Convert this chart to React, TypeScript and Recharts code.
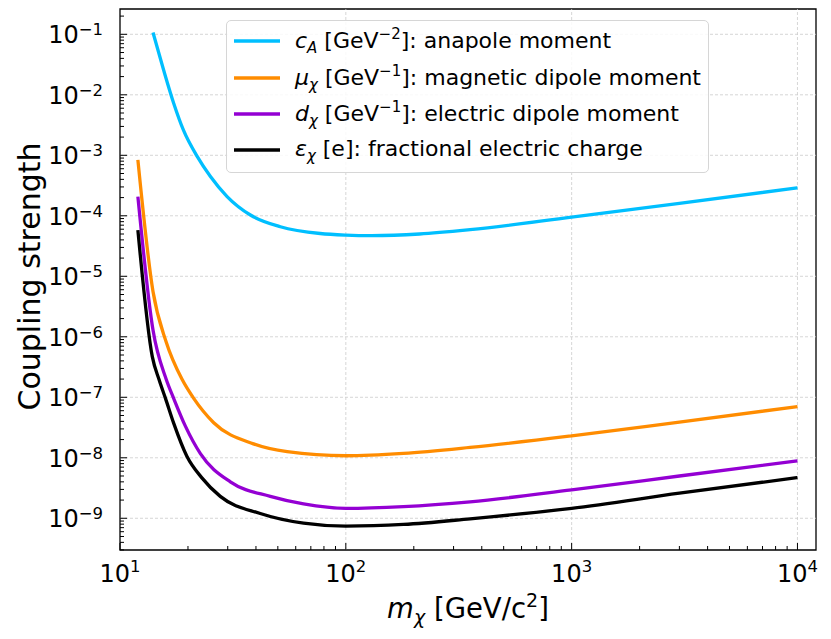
import React from "react";
import { LineChart, Line, XAxis, YAxis, Legend, ReferenceLine, ReferenceArea } from "recharts";

// masses in GeV/c^2, limits
const ANAPOLE_MASS = [14, 15.6, 17.3, 19.1, 22, 25.1, 29.8, 37.8, 51.3, 77, 100, 130, 212, 355, 1000, 3000, 10000];
const ANAPOLE = [0.107, 0.0257, 7.2e-3, 2.6e-3, 9.5e-4, 4.5e-4, 2.08e-4, 1.03e-4, 6.6e-5, 5.1e-5, 4.8e-5, 4.7e-5, 5.0e-5, 5.9e-5, 9.5e-5, 1.6e-4, 2.9e-4];

const MAGNETIC_MASS = [12, 14, 16, 18.8, 21.2, 26, 39, 55, 100, 180, 355, 1000, 3000, 10000];
const MAGNETIC = [8.4e-4, 5.6e-6, 8.3e-7, 2.0e-7, 9.6e-8, 3.8e-8, 1.7e-8, 1.26e-8, 1.08e-8, 1.18e-8, 1.48e-8, 2.3e-8, 3.9e-8, 7.0e-8];

const ELECTRIC_MASS = [12, 14, 16, 17.3, 19.5, 22.7, 30.8, 46.3, 65, 100, 180, 355, 1000, 3000, 10000];
const ELECTRIC = [2.07e-4, 1.29e-6, 2.0e-7, 9.5e-8, 3.3e-8, 1.17e-8, 4.0e-9, 2.3e-9, 1.73e-9, 1.46e-9, 1.56e-9, 1.87e-9, 2.95e-9, 5.0e-9, 8.9e-9];

const CHARGE_MASS = [12, 13.9, 14.9, 15.9, 17.3, 19.8, 23, 27.8, 41.8, 65, 100, 180, 355, 1000, 3000, 10000];
const CHARGE = [5.8e-5, 4.7e-7, 1.95e-7, 9.6e-8, 3.7e-8, 1.05e-8, 4.7e-9, 2.3e-9, 1.2e-9, 8.3e-10, 7.4e-10, 7.9e-10, 9.8e-10, 1.46e-9, 2.6e-9, 4.7e-9];

const X_DOMAIN = [10, 12080];
const Y_DOMAIN = [2.99e-10, 0.262];
const X_DECADES = [1, 2, 3, 4];
const Y_DECADES = [-10, -9, -8, -7, -6, -5, -4, -3, -2, -1];

const FONT = "'DejaVu Sans', sans-serif";

const toRows = (mass: number[], vals: number[]) => mass.map((m, i) => ({ m, v: vals[i] }));

const SERIES = [
  { key: "anapole", color: "#00BFFF", data: toRows(ANAPOLE_MASS, ANAPOLE), sym: "c", sub: "A", unit: "−2", text: "anapole moment" },
  { key: "magnetic", color: "#FF8C00", data: toRows(MAGNETIC_MASS, MAGNETIC), sym: "μ", sub: "χ", unit: "−1", text: "magnetic dipole moment" },
  { key: "electric", color: "#9400D3", data: toRows(ELECTRIC_MASS, ELECTRIC), sym: "d", sub: "χ", unit: "−1", text: "electric dipole moment" },
  { key: "charge", color: "#000000", data: toRows(CHARGE_MASS, CHARGE), sym: "ε", sub: "χ", unit: null, text: "fractional electric charge" },
];

function logTicks(decades: number[], lo: number, hi: number): number[] {
  const out: number[] = [];
  decades.forEach((e) => {
    for (let k = 1; k <= 9; k++) {
      const v = k * Math.pow(10, e);
      if (v >= lo && v <= hi) out.push(v);
    }
  });
  return out;
}

const X_TICKS = logTicks(X_DECADES, X_DOMAIN[0], X_DOMAIN[1]);
const Y_TICKS = logTicks(Y_DECADES, Y_DOMAIN[0], Y_DOMAIN[1]);

const isMajor = (v: number) => Math.abs(Math.log10(v) - Math.round(Math.log10(v))) < 1e-6;
const expOf = (v: number) => {
  const e = Math.round(Math.log10(v));
  return e < 0 ? `−${-e}` : `${e}`;
};

// eslint-disable-next-line @typescript-eslint/no-explicit-any
function XTick(props: any) {
  const { x, y, payload } = props;
  const major = isMajor(payload.value);
  return (
    <g>
      <line x1={x} x2={x} y1={y} y2={y - (major ? 7 : 4)} stroke="#000" strokeWidth={1} />
      {major && (
        <text x={x} y={y + 32} textAnchor="middle" fontFamily={FONT} fontSize={24} fill="#000">
          10<tspan dy={-10} fontSize={16.5}>{expOf(payload.value)}</tspan>
        </text>
      )}
    </g>
  );
}

// eslint-disable-next-line @typescript-eslint/no-explicit-any
function YTick(props: any) {
  const { x, y, payload } = props;
  const major = isMajor(payload.value);
  return (
    <g>
      <line x1={x} x2={x + (major ? 7 : 4)} y1={y} y2={y} stroke="#000" strokeWidth={1} />
      {major && (
        <text x={x - 17} y={y + 9} textAnchor="end" fontFamily={FONT} fontSize={24} fill="#000">
          10<tspan dy={-8} fontSize={16.5}>{expOf(payload.value)}</tspan>
        </text>
      )}
    </g>
  );
}

// eslint-disable-next-line @typescript-eslint/no-explicit-any
function XLabel(props: any) {
  const { viewBox } = props;
  const cx = viewBox.x + viewBox.width / 2;
  return (
    <text x={cx} y={viewBox.y + 68} textAnchor="middle" fontFamily={FONT} fontSize={27.5} fill="#000">
      <tspan fontStyle="italic">m</tspan>
      <tspan fontStyle="italic" fontSize={19} dy={6}>χ</tspan>
      <tspan dy={-6}> [GeV/c</tspan>
      <tspan fontSize={19} dy={-11}>2</tspan>
      <tspan dy={11}>]</tspan>
    </text>
  );
}

// eslint-disable-next-line @typescript-eslint/no-explicit-any
function YLabel(props: any) {
  const { viewBox } = props;
  const cy = viewBox.y + viewBox.height / 2 - 3;
  const bx = 40;
  return (
    <text x={bx} y={cy} transform={`rotate(-90, ${bx}, ${cy})`} textAnchor="middle" fontFamily={FONT} fontSize={30} fill="#000">
      Coupling strength
    </text>
  );
}

function LegendBox() {
  return (
    <div
      style={{
        width: 483,
        height: 153,
        boxSizing: "border-box",
        border: "1px solid #d6d6d6",
        borderRadius: 5,
        background: "rgba(255,255,255,0.85)",
        paddingTop: 2,
        paddingLeft: 7,
        fontFamily: FONT,
        fontSize: 22,
        color: "#000",
        textAlign: "left",
      }}
    >
      {SERIES.map((s) => (
        <div key={s.key} style={{ height: 36.4, display: "flex", alignItems: "center", whiteSpace: "nowrap" }}>
          <svg width={46} height={6} style={{ marginRight: 15, flex: "none" }}>
            <line x1={0} x2={46} y1={3} y2={3} stroke={s.color} strokeWidth={3.5} />
          </svg>
          <span>
            <i>{s.sym}</i>
            <sub style={{ fontSize: 15, fontStyle: "italic", verticalAlign: -5 }}>{s.sub}</sub>
            {s.unit ? (
              <>
                {" [GeV"}
                <sup style={{ fontSize: 15, verticalAlign: 9 }}>{s.unit}</sup>
                {"]: "}
              </>
            ) : (
              " [e]: "
            )}
            {s.text}
          </span>
        </div>
      ))}
    </div>
  );
}

export default function App() {
  return (
    <div style={{ position: "absolute", left: 0, top: 0, width: 831, height: 639, background: "#fff" }}>
      <LineChart width={831} height={639} margin={{ top: 9, right: 15, bottom: 0, left: 0 }}>
        <XAxis
          dataKey="m"
          type="number"
          scale="log"
          domain={X_DOMAIN}
          allowDataOverflow
          ticks={X_TICKS}
          interval={0}
          height={89}
          tickSize={0}
          tickMargin={0}
          axisLine={false}
          tickLine={false}
          tick={<XTick />}
          label={<XLabel />}
        />
        <YAxis
          dataKey="v"
          type="number"
          scale="log"
          domain={Y_DOMAIN}
          allowDataOverflow
          ticks={Y_TICKS}
          interval={0}
          width={120}
          tickSize={0}
          tickMargin={0}
          axisLine={false}
          tickLine={false}
          tick={<YTick />}
          label={<YLabel />}
        />
        {X_DECADES.slice(1).map((e) => (
          <ReferenceLine key={`gx${e}`} x={Math.pow(10, e)} stroke="#cccccc" strokeWidth={0.8} strokeDasharray="3 2" />
        ))}
        {Y_DECADES.slice(1).map((e) => (
          <ReferenceLine key={`gy${e}`} y={Math.pow(10, e)} stroke="#cccccc" strokeWidth={0.8} strokeDasharray="3 2" />
        ))}
        {SERIES.map((s) => (
          <Line
            key={s.key}
            data={s.data}
            dataKey="v"
            name={s.key}
            type="monotone"
            stroke={s.color}
            strokeWidth={3.3}
            dot={false}
            activeDot={false}
            isAnimationActive={false}
          />
        ))}
        <ReferenceArea
          x1={X_DOMAIN[0]}
          x2={X_DOMAIN[1]}
          y1={Y_DOMAIN[0]}
          y2={Y_DOMAIN[1]}
          fill="none"
          stroke="#000"
          strokeWidth={1.3}
        />
        <Legend
          layout="horizontal"
          verticalAlign="middle"
          align="center"
          content={<LegendBox />}
          wrapperStyle={{ position: "absolute", left: 226, top: 20, width: 483 }}
        />
      </LineChart>
    </div>
  );
}
